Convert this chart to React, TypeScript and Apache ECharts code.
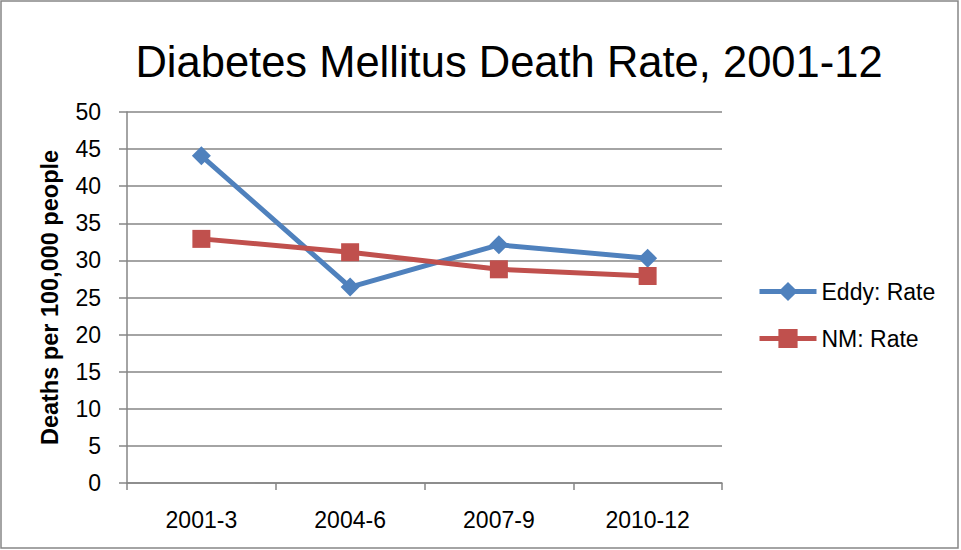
import React, { useEffect, useRef } from "react";
import * as echarts from "echarts";

const categories = ["2001-3", "2004-6", "2007-9", "2010-12"];
const eddyRate = [44.1, 26.4, 32.1, 30.3];
const nmRate = [32.9, 31.1, 28.8, 27.9];
const seriesNames = ["Eddy: Rate", "NM: Rate"];
const titleText = "Diabetes Mellitus Death Rate, 2001-12";
const yAxisTitle = "Deaths per 100,000 people";

const FONT = "'Liberation Sans', Arial, sans-serif";

export default function App() {
  const ref = useRef<HTMLDivElement>(null);
  useEffect(() => {
    document.body.style.margin = "0";
    if (!ref.current) return;
    const chart = echarts.init(ref.current, undefined, { renderer: "svg" });
    chart.setOption({
      animation: false,
      backgroundColor: "#ffffff",
      textStyle: { fontFamily: FONT },
      title: {
        text: titleText,
        left: 504,
        textAlign: "center",
        top: 35,
        textStyle: { fontFamily: FONT, fontSize: 43.5, fontWeight: "normal", color: "#000" },
      },
      grid: { left: 127, top: 112, right: 239, bottom: 67 },
      legend: {
        orient: "vertical",
        left: 752,
        top: 275,
        itemWidth: 57,
        itemHeight: 24,
        itemGap: 24,
        data: seriesNames,
        lineStyle: { width: 5 },
        textStyle: { fontFamily: FONT, fontSize: 23, color: "#000" },
      },
      xAxis: {
        type: "category",
        data: categories,
        boundaryGap: true,
        axisLine: { lineStyle: { color: "#868686", width: 1.5 } },
        axisTick: { show: true, length: 7, lineStyle: { color: "#868686", width: 1.5 } },
        axisLabel: { color: "#000", fontSize: 23, fontFamily: FONT, margin: 25 },
        splitLine: { show: false },
      },
      yAxis: {
        type: "value",
        min: 0,
        max: 50,
        interval: 5,
        name: yAxisTitle,
        nameLocation: "middle",
        nameGap: 65,
        nameTextStyle: { fontFamily: FONT, fontSize: 23.5, fontWeight: "bold", color: "#000" },
        axisLine: { show: true, lineStyle: { color: "#868686", width: 1.5 } },
        axisTick: { show: true, length: 8, lineStyle: { color: "#868686", width: 1.5 } },
        axisLabel: { color: "#000", fontSize: 23, fontFamily: FONT, margin: 26 },
        splitLine: { show: true, lineStyle: { color: "#868686", width: 1.5 } },
      },
      series: [
        {
          name: seriesNames[0],
          type: "line",
          data: eddyRate,
          symbol: "diamond",
          symbolSize: 19,
          lineStyle: { color: "#4F81BD", width: 5 },
          itemStyle: { color: "#4F81BD" },
        },
        {
          name: seriesNames[1],
          type: "line",
          data: nmRate,
          symbol: "rect",
          symbolSize: 18,
          lineStyle: { color: "#C0504D", width: 5 },
          itemStyle: { color: "#C0504D" },
        },
      ],
      graphic: [
        {
          type: "rect",
          shape: { x: 1, y: 1, width: 957, height: 547 },
          style: { fill: "none", stroke: "#868686", lineWidth: 1.5 },
          silent: true,
        },
      ],
    });
    return () => chart.dispose();
  }, []);
  return (
    <div
      ref={ref}
      style={{ position: "fixed", left: 0, top: 0, width: 961, height: 550 }}
    />
  );
}
